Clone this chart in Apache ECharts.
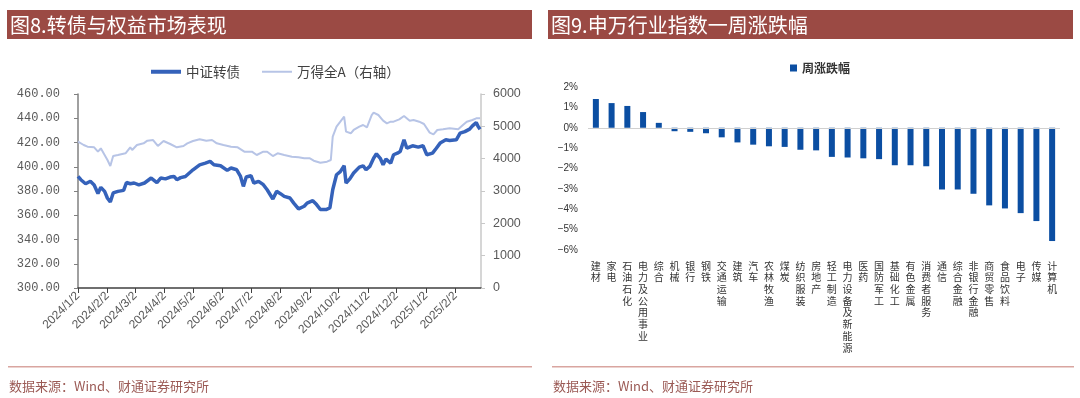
<!DOCTYPE html>
<html><head><meta charset="utf-8">
<script src="https://cdn.jsdelivr.net/npm/echarts@6/dist/echarts.min.js"></script>
<style>html,body{margin:0;padding:0;background:#fff;}#c{width:1080px;height:398px;}</style>
</head><body><div id="c"></div>
<script>
// ---- Left chart data ----
const cbDates = ['2024-01-02','2024-01-05','2024-01-10','2024-01-15','2024-01-19','2024-01-23','2024-01-26','2024-01-30','2024-02-02','2024-02-05','2024-02-08','2024-02-13','2024-02-19','2024-02-22','2024-02-26','2024-03-01','2024-03-06','2024-03-12','2024-03-19','2024-03-25','2024-03-29','2024-04-03','2024-04-08','2024-04-12','2024-04-15','2024-04-19','2024-04-24','2024-05-02','2024-05-09','2024-05-15','2024-05-20','2024-05-24','2024-05-31','2024-06-07','2024-06-11','2024-06-17','2024-06-21','2024-06-24','2024-06-27','2024-07-02','2024-07-05','2024-07-10','2024-07-15','2024-07-19','2024-07-25','2024-07-29','2024-08-02','2024-08-06','2024-08-12','2024-08-16','2024-08-21','2024-08-27','2024-08-30','2024-09-05','2024-09-09','2024-09-13','2024-09-19','2024-09-23','2024-09-26','2024-09-30','2024-10-04','2024-10-08','2024-10-10','2024-10-14','2024-10-18','2024-10-24','2024-10-28','2024-10-31','2024-11-04','2024-11-08','2024-11-11','2024-11-15','2024-11-18','2024-11-21','2024-11-26','2024-11-29','2024-12-03','2024-12-06','2024-12-10','2024-12-13','2024-12-19','2024-12-25','2024-12-30','2025-01-03','2025-01-09','2025-01-13','2025-01-17','2025-01-23','2025-01-27','2025-02-03','2025-02-07','2025-02-12','2025-02-17','2025-02-20','2025-02-24','2025-02-26','2025-02-28'];
const cbValues = [392,389.3,386,388,385,378,383,379.7,374,371,378.4,379.7,380.5,387,386,386.6,385,386.6,390.7,387,390.7,390,391.5,392,389.3,391,392,397.5,401.6,403,404.4,401.6,400.8,397,399,397.5,392,383.8,391.5,392.6,386.6,388,385.2,381,373.4,379.7,377.8,375.6,374.2,370,365.2,367.4,370,372,368.8,364.7,364.7,366,381,393.4,396,400.8,386.6,390,394.8,399.7,400.8,397.5,400.3,407,410.7,407,401.6,406.3,403,409.9,411.2,412.6,422.2,415.3,417.3,416.2,417.3,409.9,411.2,415.3,419.5,422.2,421.6,422.2,427.7,429,431,433.7,436.4,433.2,431];
const wdaDates = ['2024-01-02','2024-01-08','2024-01-12','2024-01-19','2024-01-23','2024-01-26','2024-01-30','2024-02-02','2024-02-05','2024-02-08','2024-02-13','2024-02-21','2024-02-26','2024-02-28','2024-03-04','2024-03-11','2024-03-15','2024-03-21','2024-03-26','2024-04-01','2024-04-08','2024-04-15','2024-04-22','2024-04-26','2024-05-02','2024-05-09','2024-05-16','2024-05-22','2024-05-27','2024-06-03','2024-06-11','2024-06-18','2024-06-25','2024-07-03','2024-07-08','2024-07-15','2024-07-19','2024-07-25','2024-07-30','2024-08-06','2024-08-14','2024-08-21','2024-08-27','2024-09-02','2024-09-06','2024-09-13','2024-09-20','2024-09-24','2024-09-26','2024-09-30','2024-10-04','2024-10-08','2024-10-10','2024-10-15','2024-10-18','2024-10-24','2024-10-28','2024-11-01','2024-11-06','2024-11-08','2024-11-13','2024-11-18','2024-11-22','2024-11-26','2024-11-29','2024-12-05','2024-12-10','2024-12-16','2024-12-20','2024-12-26','2024-12-31','2025-01-06','2025-01-10','2025-01-14','2025-01-20','2025-01-27','2025-02-05','2025-02-10','2025-02-14','2025-02-20','2025-02-24','2025-02-28'];
const wdaValues = [4526,4423,4371,4350,4216,4320,4113,3959,3773,4082,4113,4165,4350,4268,4423,4474,4557,4577,4392,4546,4454,4350,4392,4474,4546,4598,4557,4577,4474,4423,4371,4350,4216,4216,4113,4216,4216,4082,4165,4113,4062,4041,4010,4010,3938,3876,3907,3959,4680,4990,5144,5299,4835,4784,4887,4990,5041,4969,5350,5423,5350,5175,5093,5144,5144,5216,5320,5175,5196,5144,5072,4804,4753,4887,4907,4938,4907,5041,5144,5196,5247,5247];
const xTickLabels = ['2024/1/2','2024/2/2','2024/3/2','2024/4/2','2024/5/2','2024/6/2','2024/7/2','2024/8/2','2024/9/2','2024/10/2','2024/11/2','2024/12/2','2025/1/2','2025/2/2'];

// ---- Right chart data ----
const industries = ['建材','家电','石油石化','电力及公用事业','综合','机械','银行','钢铁','交通运输','建筑','汽车','农林牧渔','煤炭','纺织服装','房地产','轻工制造','电力设备及新能源','医药','国防军工','基础化工','有色金属','消费者服务','通信','综合金融','非银行金融','商贸零售','食品饮料','电子','传媒','计算机'];
const weeklyChange = [1.41,1.21,1.07,0.77,0.24,-0.17,-0.20,-0.27,-0.47,-0.72,-0.83,-0.91,-0.94,-1.08,-1.11,-1.43,-1.46,-1.50,-1.54,-1.84,-1.84,-1.89,-3.03,-3.03,-3.24,-3.81,-3.96,-4.19,-4.58,-5.56];

// ---- helpers ----
const DAY = 86400000;
const base = Date.UTC(2024,0,2);
function dayOff(s){ const p = s.split(/[-\/]/).map(Number); return (Date.UTC(p[0],p[1]-1,p[2]) - base)/DAY; }
const tickOffsets = xTickLabels.map(dayOff);
const cbData = cbDates.map((d,i)=>[dayOff(d), cbValues[i]]);
const wdaData = wdaDates.map((d,i)=>[dayOff(d), wdaValues[i]]);

const CJK = '"Noto Sans CJK SC", sans-serif';
const HDR = '#9b4a44';
const CB_COLOR = '#3562ba', WDA_COLOR = '#b7c4e6';
const chart = echarts.init(document.getElementById('c'), null, {renderer:'canvas', width:1080, height:398});

chart.setOption({
  animation:false,
  backgroundColor:'#fff',
  graphic:[
    {type:'rect', shape:{x:7,y:10,width:525,height:29}, style:{fill:HDR}},
    {type:'rect', shape:{x:548,y:10,width:525,height:29}, style:{fill:HDR}},
    {type:'text', x:10, y:25, style:{text:'图8.转债与权益市场表现', fill:'#fff', font:'20px '+CJK, verticalAlign:'middle'}},
    {type:'text', x:551, y:25, style:{text:'图9.申万行业指数一周涨跌幅', fill:'#fff', font:'20px '+CJK, verticalAlign:'middle'}},
    {type:'rect', shape:{x:8,y:366,width:524,height:1.5}, style:{fill:'#d9a5a0'}},
    {type:'rect', shape:{x:552,y:366,width:522,height:1.5}, style:{fill:'#d9a5a0'}},
    {type:'text', x:9, y:386, style:{text:'数据来源：Wind、财通证券研究所', fill:'#9b5a55', font:'13px '+CJK, verticalAlign:'middle'}},
    {type:'text', x:553, y:386, style:{text:'数据来源：Wind、财通证券研究所', fill:'#9b5a55', font:'13px '+CJK, verticalAlign:'middle'}}
  ],
  legend:[
    {left:146, top:60, itemWidth:30, itemHeight:4, icon:'rect', data:['中证转债'],
     textStyle:{fontFamily:CJK, fontSize:13.5, color:'#404040'}, selectedMode:false},
    {left:257, top:60, itemWidth:30, itemHeight:2, icon:'rect', data:['万得全A（右轴）'],
     textStyle:{fontFamily:CJK, fontSize:13.5, color:'#404040'}, selectedMode:false},
    {left:785, top:57, itemWidth:7, itemHeight:7, icon:'rect', data:['周涨跌幅'],
     textStyle:{fontFamily:CJK, fontSize:12, fontWeight:'bold', color:'#333'}, selectedMode:false}
  ],
  grid:[
    {left:78, top:94, width:403, height:194},
    {left:588, top:87, width:472, height:163}
  ],
  xAxis:[
    {type:'value', gridIndex:0, min:0, max:424,
     axisLine:{show:true, onZero:false, lineStyle:{color:'#404040', width:1.5}},
     axisTick:{show:true, customValues:tickOffsets, length:5, lineStyle:{color:'#404040'}},
     axisLabel:{customValues:tickOffsets, rotate:45, hideOverlap:false, fontFamily:'"Liberation Sans", sans-serif', fontSize:12, color:'#595959', margin:6,
       formatter:(v)=>{ const i = tickOffsets.indexOf(v); return i>=0 ? xTickLabels[i] : ''; }},
     splitLine:{show:false}},
    {type:'category', gridIndex:1, data:industries,
     axisLine:{show:false}, axisTick:{show:false},
     axisLabel:{interval:0, fontFamily:CJK, fontSize:10, color:'#333', lineHeight:11.7, verticalAlign:'top', margin:10,
       formatter:(s)=>s.split('').join('\n')},
     splitLine:{show:false}}
  ],
  yAxis:[
    {type:'value', gridIndex:0, min:300, max:460, interval:20, position:'left',
     axisLine:{show:true, lineStyle:{color:'#808080', width:1.5}},
     axisTick:{show:true, length:4, lineStyle:{color:'#808080'}},
     axisLabel:{fontFamily:'"Liberation Mono", monospace', fontSize:12, color:'#595959', margin:18, formatter:(v)=>v.toFixed(2)},
     splitLine:{show:false}},
    {type:'value', gridIndex:0, min:0, max:6000, interval:1000, position:'right',
     axisLine:{show:true, lineStyle:{color:'#c8c8c8', width:1.5}},
     axisTick:{show:true, length:4, lineStyle:{color:'#c8c8c8'}},
     axisLabel:{fontFamily:'"Liberation Sans", sans-serif', fontSize:12.5, color:'#595959', margin:12, formatter:(v)=>String(v)},
     splitLine:{show:false}},
    {type:'value', gridIndex:1, min:-6, max:2, interval:1,
     axisLine:{show:false}, axisTick:{show:false}, splitLine:{show:false},
     axisLabel:{fontFamily:'"Liberation Sans", sans-serif', fontSize:10, color:'#333', margin:10,
       formatter:(v)=>(v<0?'−':'')+Math.abs(v)+'%'}}
  ],
  series:[
    {name:'万得全A（右轴）', type:'line', xAxisIndex:0, yAxisIndex:1, data:wdaData, symbol:'none',
     lineStyle:{color:WDA_COLOR, width:2}, itemStyle:{color:WDA_COLOR}, z:2},
    {name:'中证转债', type:'line', xAxisIndex:0, yAxisIndex:0, data:cbData, symbol:'none',
     lineStyle:{color:CB_COLOR, width:3.5}, itemStyle:{color:CB_COLOR}, z:3},
    {name:'周涨跌幅', type:'bar', xAxisIndex:1, yAxisIndex:2, data:weeklyChange, barWidth:6,
     itemStyle:{color:'#0b4ea2'},
     markLine:{silent:true, symbol:'none', label:{show:false}, data:[{yAxis:0}],
       lineStyle:{color:'#d0d0d0', width:1, type:'solid'}}}
  ]
});
</script></body></html>
